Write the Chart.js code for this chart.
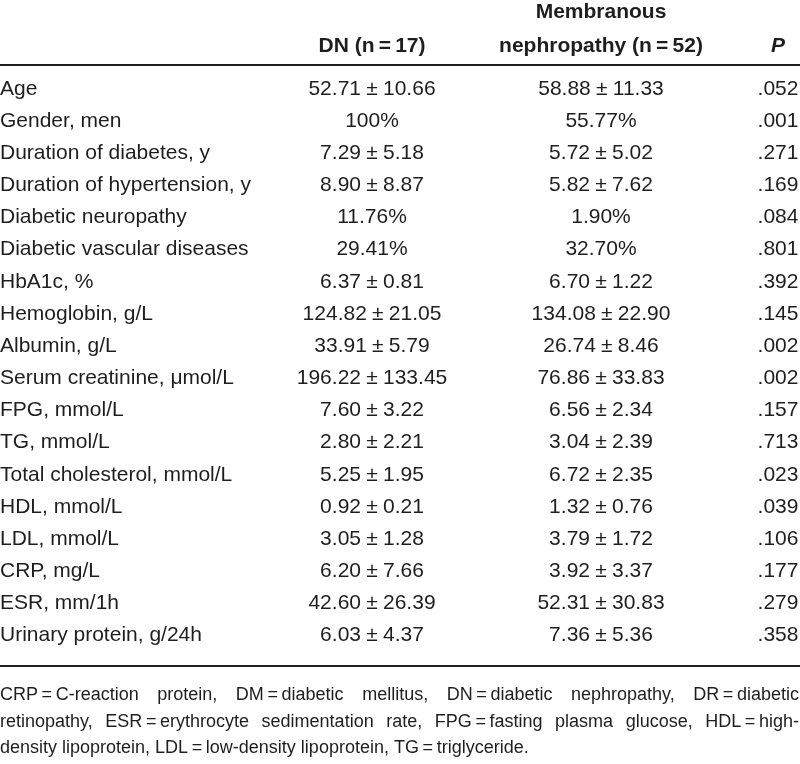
<!DOCTYPE html>
<html>
<head>
<meta charset="utf-8">
<script src="https://cdn.jsdelivr.net/npm/chart.js@4.4.1/dist/chart.umd.min.js"></script>
<style>
    html, body { margin: 0; padding: 0; background: #fff; }
    #wrap { position: relative; width: 800px; height: 764px; }
</style>
</head>
<body>
<div id="wrap"><canvas id="tableChart"></canvas></div>
<script>
// ==================== Table Data ====================
const rowLabels = [
    'Age', 'Gender, men', 'Duration of diabetes, y', 'Duration of hypertension, y',
    'Diabetic neuropathy', 'Diabetic vascular diseases', 'HbA1c, %', 'Hemoglobin, g/L',
    'Albumin, g/L', 'Serum creatinine, \u03bcmol/L', 'FPG, mmol/L', 'TG, mmol/L',
    'Total cholesterol, mmol/L', 'HDL, mmol/L', 'LDL, mmol/L', 'CRP, mg/L',
    'ESR, mm/1h', 'Urinary protein, g/24h'
];
const dnValues = [
    '52.71 ± 10.66', '100%', '7.29 ± 5.18', '8.90 ± 8.87', '11.76%', '29.41%',
    '6.37 ± 0.81', '124.82 ± 21.05', '33.91 ± 5.79', '196.22 ± 133.45', '7.60 ± 3.22',
    '2.80 ± 2.21', '5.25 ± 1.95', '0.92 ± 0.21', '3.05 ± 1.28', '6.20 ± 7.66',
    '42.60 ± 26.39', '6.03 ± 4.37'
];
const mnValues = [
    '58.88 ± 11.33', '55.77%', '5.72 ± 5.02', '5.82 ± 7.62', '1.90%', '32.70%',
    '6.70 ± 1.22', '134.08 ± 22.90', '26.74 ± 8.46', '76.86 ± 33.83', '6.56 ± 2.34',
    '3.04 ± 2.39', '6.72 ± 2.35', '1.32 ± 0.76', '3.79 ± 1.72', '3.92 ± 3.37',
    '52.31 ± 30.83', '7.36 ± 5.36'
];
const pValues = [
    '.052', '.001', '.271', '.169', '.084', '.801', '.392', '.145', '.002',
    '.002', '.157', '.713', '.023', '.039', '.106', '.177', '.279', '.358'
];
const headerTop = ['', 'Membranous', ''];
const headerBottom = ['DN (n = 17)', 'nephropathy (n = 52)', 'P'];
const footnoteLines = [
    'CRP = C-reaction protein, DM = diabetic mellitus, DN = diabetic nephropathy, DR = diabetic',
    'retinopathy, ESR = erythrocyte sedimentation rate, FPG = fasting plasma glucose, HDL = high-',
    'density lipoprotein, LDL = low-density lipoprotein, TG = triglyceride.'
];

// ==================== Layout / Style ====================
const INK = '#1e1e1e';
const FAMILY = '"Liberation Sans", Arial, sans-serif';
const BODY_FONT = '21px ' + FAMILY;
const HEAD_FONT = 'bold 21px ' + FAMILY;
const NOTE_FONT = '18px ' + FAMILY;
const COL_X = { label: 0, dn: 372, mn: 601, p: 778 };

// narrow spaces around ± and =
function tight(s) {
    return s.replace(/ ± /g, '\u2005±\u2005').replace(/ = /g, '\u2009=\u2009');
}

// ==================== Text Plugin ====================
const tablePlugin = {
    id: 'tableText',
    afterDatasetsDraw(chart) {
        const ctx = chart.ctx;
        const area = chart.chartArea;
        const w = chart.width;
        ctx.save();
        ctx.fillStyle = INK;
        ctx.textBaseline = 'alphabetic';

        // header (two lines)
        const headX = [COL_X.dn, COL_X.mn, COL_X.p];
        ctx.textAlign = 'center';
        headX.forEach((x, i) => {
            ctx.font = (i === 2) ? 'italic ' + HEAD_FONT : HEAD_FONT;
            if (headerTop[i]) ctx.fillText(tight(headerTop[i]), x, area.top - 53);
            ctx.fillText(tight(headerBottom[i]), x, area.top - 19);
        });

        // rules
        ctx.fillRect(0, area.top - 7, w, 2);
        ctx.fillRect(0, area.bottom + 15, w, 2);

        // cells, placed at the points of each dataset
        ctx.font = BODY_FONT;
        chart.data.datasets.forEach((ds, i) => {
            const meta = chart.getDatasetMeta(i);
            ctx.textAlign = ds.align;
            meta.data.forEach((pt, j) => {
                ctx.fillText(tight(ds.cellText[j]), pt.x, pt.y + 7.5);
            });
        });

        // footnote (first two lines justified)
        ctx.font = NOTE_FONT;
        ctx.textAlign = 'left';
        footnoteLines.forEach((line, i) => {
            const y = area.bottom + 50 + i * 26.5;
            const words = tight(line).split(' ');
            if (i === footnoteLines.length - 1) {
                ctx.fillText(words.join(' '), 0, y);
                return;
            }
            const widths = words.map(t => ctx.measureText(t).width);
            const total = widths.reduce((a, b) => a + b, 0);
            const gap = (w - 1 - total) / (words.length - 1);
            let x = 0;
            words.forEach((t, k) => {
                ctx.fillText(t, x, y);
                x += widths[k] + gap;
            });
        });
        ctx.restore();
    }
};

// ==================== Build Chart ====================
function cellDataset(colX, texts, align) {
    return {
        data: rowLabels.map(r => ({ x: colX, y: r })),
        cellText: texts,
        align: align,
        pointRadius: 0,
        pointHoverRadius: 0,
        showLine: false
    };
}

const ctx = document.getElementById('tableChart').getContext('2d');
new Chart(ctx, {
    type: 'scatter',
    data: {
        labels: rowLabels,
        datasets: [
            cellDataset(COL_X.label, rowLabels, 'left'),
            cellDataset(COL_X.dn, dnValues, 'center'),
            cellDataset(COL_X.mn, mnValues, 'center'),
            cellDataset(COL_X.p, pValues, 'center')
        ]
    },
    options: {
        responsive: true,
        maintainAspectRatio: false,
        animation: false,
        events: [],
        layout: { padding: { top: 71, bottom: 114, left: 0, right: 0 } },
        plugins: {
            legend: { display: false },
            tooltip: { enabled: false }
        },
        scales: {
            x: { type: 'linear', min: 0, max: 800, display: false },
            y: { type: 'category', labels: rowLabels, offset: true, display: false }
        }
    },
    plugins: [tablePlugin]
});
</script>
</body>
</html>
